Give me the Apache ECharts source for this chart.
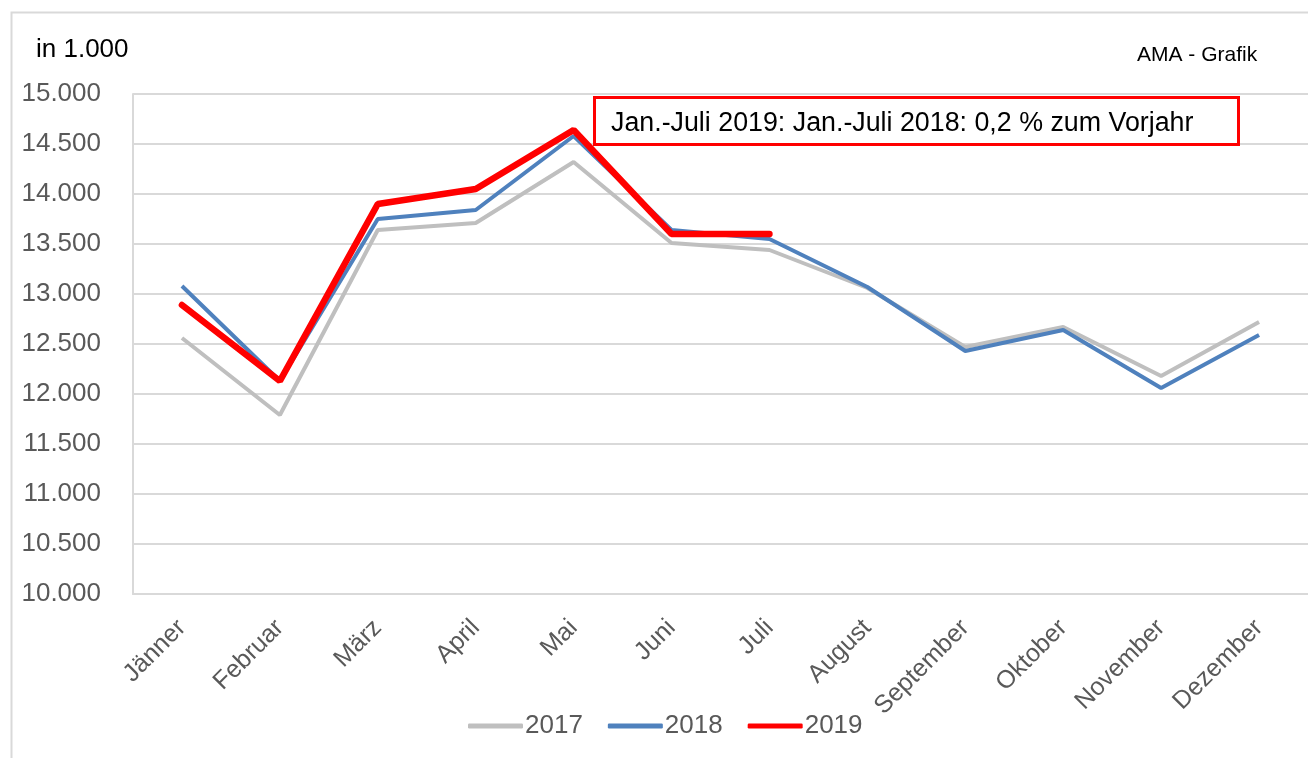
<!DOCTYPE html>
<html>
<head>
<meta charset="utf-8">
<title>Chart</title>
<script src="https://cdn.jsdelivr.net/npm/echarts@6/dist/echarts.min.js"></script>
<style>
  html, body { margin: 0; padding: 0; background: #fff; }
  #chart { width: 1308px; height: 758px; }
</style>
</head>
<body>
<div id="chart"></div>
<script>
// Monate
const months = ["Jänner", "Februar", "März", "April", "Mai", "Juni", "Juli",
  "August", "September", "Oktober", "November", "Dezember"];

// Werte in Stück
const data2017 = [12560, 11790, 13640, 13710, 14320, 13510, 13440, 13060, 12470, 12670, 12180, 12720];
const data2018 = [13080, 12130, 13750, 13840, 14580, 13640, 13550, 13070, 12430, 12640, 12060, 12590];
const data2019 = [12890, 12130, 13900, 14050, 14640, 13600, 13600];

const yMin = 10000;
const yMax = 15000;
const yStep = 500;

const unitText = "in 1.000";
const sourceText = "AMA - Grafik";
const noteText = "Jan.-Juli 2019: Jan.-Juli 2018: 0,2 % zum Vorjahr";

const font = "'Liberation Sans', Arial, sans-serif";
const grey = "#595959";
const colors = { "2017": "#bfbfbf", "2018": "#4f81bd", "2019": "#ff0000" };

function fmt(v) {
  return String(v).replace(/\B(?=(\d{3})+(?!\d))/g, ".");
}

const chart = echarts.init(document.getElementById("chart"));

const option = {
  animation: false,
  textStyle: { fontFamily: font },
  grid: { left: 133, right: 0, top: 94, bottom: 164, containLabel: false },
  legend: {
    left: 463,
    top: 708,
    itemWidth: 55,
    itemHeight: 5,
    itemGap: 25,
    icon: "roundRect",
    textStyle: { fontSize: 26, color: grey, fontFamily: font, padding: [0, 0, 0, -3] },
    data: ["2017", "2018", "2019"].map(n => ({ name: n, itemStyle: { color: colors[n] } }))
  },
  xAxis: {
    type: "category",
    data: months,
    boundaryGap: true,
    axisLine: { show: true, lineStyle: { color: "#d9d9d9", width: 2 } },
    axisTick: { show: false },
    axisLabel: { rotate: 45, margin: 30, fontSize: 25, color: grey, fontFamily: font, interval: 0 }
  },
  yAxis: {
    type: "value",
    min: yMin,
    max: yMax,
    interval: yStep,
    axisLine: { show: true, lineStyle: { color: "#d9d9d9", width: 2 } },
    axisTick: { show: false },
    axisLabel: { margin: 32, fontSize: 26, color: grey, fontFamily: font, formatter: fmt },
    splitLine: { lineStyle: { color: "#d9d9d9", width: 2 } }
  },
  series: [
    {
      name: "2017", type: "line", data: data2017, symbol: "none",
      lineStyle: { color: colors["2017"], width: 4 }, itemStyle: { color: colors["2017"] }
    },
    {
      name: "2018", type: "line", data: data2018, symbol: "none",
      lineStyle: { color: colors["2018"], width: 4 }, itemStyle: { color: colors["2018"] }
    },
    {
      name: "2019", type: "line", data: data2019, symbol: "none",
      lineStyle: { color: colors["2019"], width: 6.5, cap: "round" }, itemStyle: { color: colors["2019"] }
    }
  ],
  graphic: [
    {
      type: "rect", left: 9, top: 10, z: -10, silent: true,
      shape: { width: 1320, height: 770 },
      style: { fill: "none", stroke: "#d9d9d9", lineWidth: 2 }
    },
    {
      type: "text", left: 36, top: 37,
      style: { text: unitText, fontSize: 26, fill: "#000", fontFamily: font }
    },
    {
      type: "text", left: 1137, top: 45,
      style: { text: sourceText, fontSize: 21, fill: "#000", fontFamily: font }
    },
    {
      type: "rect", left: 593, top: 96, z: 100,
      shape: { width: 644, height: 47 },
      style: { fill: "#fff", stroke: "#ff0000", lineWidth: 3 }
    },
    {
      type: "text", left: 611, top: 110, z: 101,
      style: { text: noteText, fontSize: 26.8, fill: "#000", fontFamily: font }
    }
  ]
};

chart.setOption(option);
</script>
</body>
</html>
